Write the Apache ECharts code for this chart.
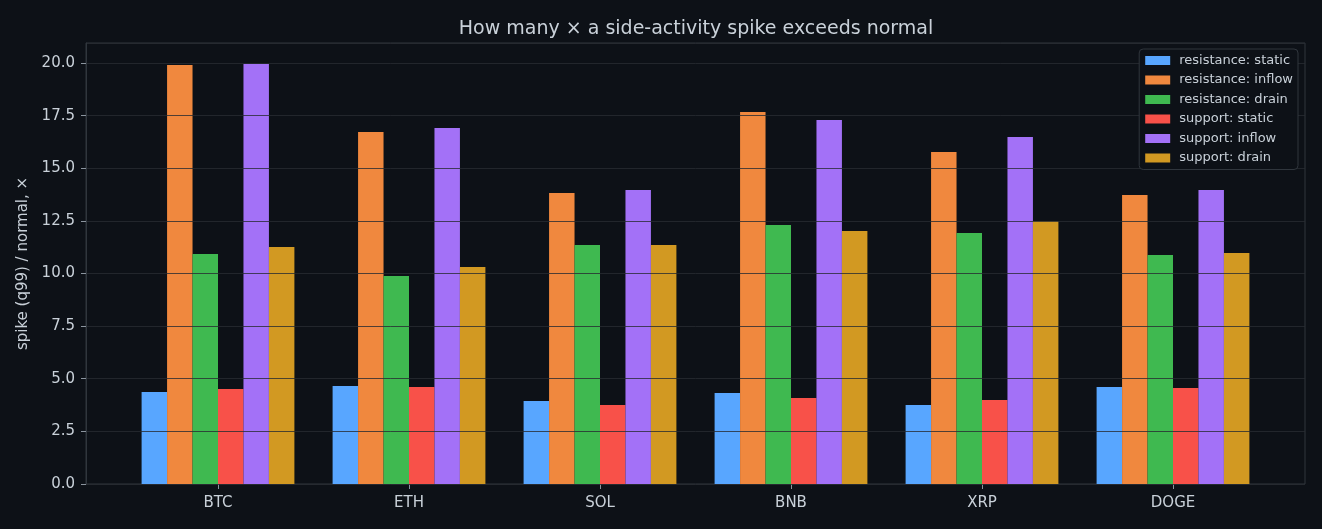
<!DOCTYPE html>
<html>
<head>
<meta charset="utf-8">
<script src="https://cdn.jsdelivr.net/npm/echarts@6/dist/echarts.min.js"></script>
<style>
  html, body { margin: 0; padding: 0; background: #0d1117; }
  #chart { width: 1322px; height: 529px; }
</style>
</head>
<body>
<div id="chart"></div>
<script>
// categories
const coins = ['BTC', 'ETH', 'SOL', 'BNB', 'XRP', 'DOGE']

// series values
const resistanceStatic = [4.37, 4.66, 3.94, 4.32, 3.75, 4.61]
const resistanceInflow = [19.90, 16.72, 13.82, 17.67, 15.77, 13.73]
const resistanceDrain = [10.93, 9.88, 11.35, 12.30, 11.92, 10.88]
const supportStatic = [4.51, 4.61, 3.75, 4.09, 3.99, 4.56]
const supportInflow = [19.95, 16.91, 13.97, 17.29, 16.48, 13.97]
const supportDrain = [11.26, 10.31, 11.35, 12.02, 12.49, 10.97]

const seriesNames = [
  'resistance: static', 'resistance: inflow', 'resistance: drain',
  'support: static', 'support: inflow', 'support: drain'
]
const seriesData = [
  resistanceStatic, resistanceInflow, resistanceDrain,
  supportStatic, supportInflow, supportDrain
]
const colors = ['#58a6ff', '#f0883e', '#3fb950', '#f85149', '#a371f7', '#d29922']

const yMax = 20.95
const font = 'DejaVu Sans'
const textColor = '#c9d1d9'

const chart = echarts.init(document.getElementById('chart'))

chart.setOption({
  backgroundColor: '#0d1117',
  animation: false,
  textStyle: { fontFamily: font },
  title: {
    text: 'How many × a side-activity spike exceeds normal',
    left: 691,
    top: 15,
    textAlign: 'center',
    textStyle: { color: textColor, fontSize: 19, fontWeight: 'normal', fontFamily: font }
  },
  legend: {
    right: 24,
    top: 49,
    orient: 'vertical',
    itemWidth: 25,
    itemHeight: 9,
    itemGap: 6.5,
    padding: [5, 5, 5, 6],
    backgroundColor: '#0d1117',
    borderColor: '#30363d',
    borderWidth: 1,
    borderRadius: 4,
    icon: 'rect',
    textStyle: { color: textColor, fontSize: 13, fontFamily: font, padding: [0, 0, 0, 4] },
    data: seriesNames
  },
  grid: [
    // outer frame with y ticks, labels and grid lines
    {
      left: 86, right: 17, top: 43, bottom: 45,
      show: true,
      borderColor: '#30363d',
      borderWidth: 1,
      backgroundColor: 'transparent'
    },
    // inner area where the bars sit (matplotlib keeps a margin at both ends)
    { left: 122.5, right: 53.5, top: 43, bottom: 45 }
  ],
  xAxis: [
    { type: 'value', gridIndex: 0, show: false, min: 0, max: 1 },
    {
      type: 'category',
      gridIndex: 1,
      data: coins,
      axisLine: { show: false },
      axisTick: { show: true, alignWithLabel: true, length: 5, lineStyle: { color: '#8b949e' } },
      axisLabel: { color: textColor, fontSize: 15, margin: 12, fontFamily: font }
    }
  ],
  yAxis: [
    {
      type: 'value',
      gridIndex: 0,
      min: 0,
      max: yMax,
      interval: 2.5,
      z: 3,
      name: 'spike (q99) / normal, ×',
      nameLocation: 'middle',
      nameGap: 53,
      nameTextStyle: { color: textColor, fontSize: 15, fontFamily: font },
      axisLine: { show: true, lineStyle: { color: '#30363d' } },
      axisTick: { show: true, length: 5, lineStyle: { color: '#8b949e' } },
      axisLabel: {
        color: textColor,
        fontSize: 15,
        margin: 11,
        fontFamily: font,
        showMaxLabel: false,
        formatter: v => (Math.abs(v / 2.5 - Math.round(v / 2.5)) < 1e-6 ? v.toFixed(1) : '')
      },
      splitLine: { show: true, lineStyle: { color: 'rgba(40,44,50,0.8)', width: 1 } }
    },
    { type: 'value', gridIndex: 1, min: 0, max: yMax, show: false, splitLine: { show: false } }
  ],
  series: seriesNames.map((name, i) => ({
    name: name,
    type: 'bar',
    xAxisIndex: 1,
    yAxisIndex: 1,
    data: seriesData[i],
    barGap: '0%',
    barCategoryGap: '20%',
    itemStyle: { color: colors[i] }
  }))
})
</script>
</body>
</html>
